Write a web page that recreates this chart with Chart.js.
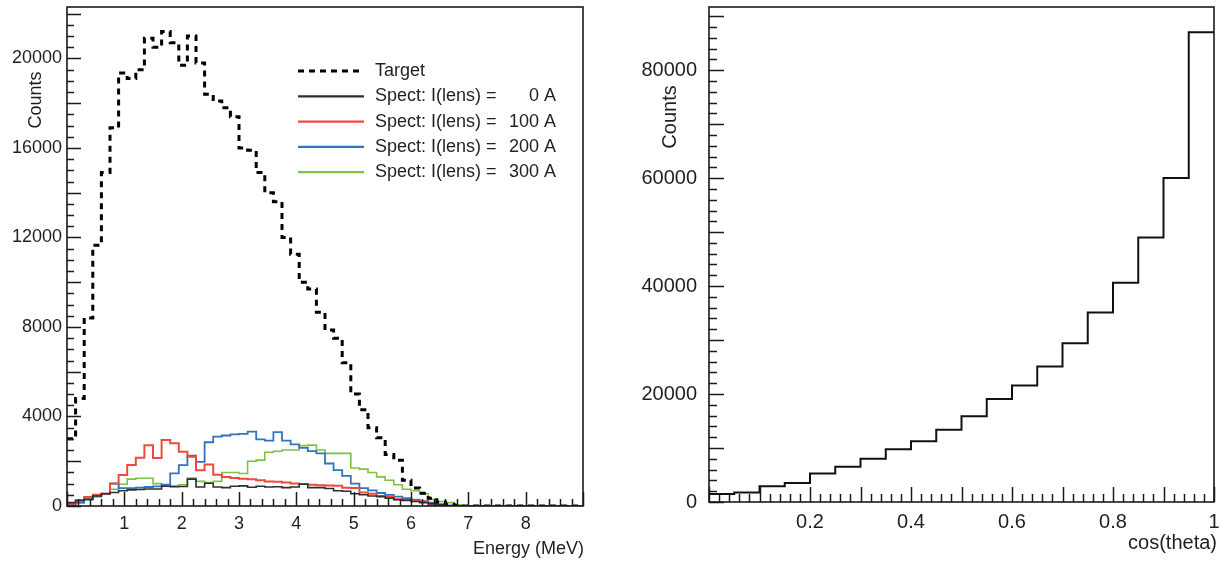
<!DOCTYPE html>
<html>
<head>
<meta charset="utf-8">
<script src="https://cdn.jsdelivr.net/npm/chart.js@4.4.1/dist/chart.umd.min.js"></script>
<style>
  html, body { margin: 0; padding: 0; background: #ffffff; }
  #wrap { position: relative; width: 1222px; height: 563px; background: #ffffff; }
  .panel { position: absolute; top: 0; height: 563px; }
  #leftPanel { left: 0; width: 600px; }
  #rightPanel { left: 600px; width: 622px; }
</style>
</head>
<body>
<div id="wrap">
  <div class="panel" id="leftPanel"><canvas id="leftChart" width="600" height="563"></canvas></div>
  <div class="panel" id="rightPanel"><canvas id="rightChart" width="622" height="563"></canvas></div>
</div>
<script>
// ---------------- DATA ----------------
// Left: energy spectra, 60 bins of 0.15 MeV (bin edges)
const energyEdges = [0, 0.15, 0.3, 0.45, 0.6, 0.75, 0.9, 1.05, 1.2, 1.35, 1.5, 1.65, 1.8, 1.95, 2.1, 2.25, 2.4, 2.55, 2.7, 2.85,
  3.0, 3.15, 3.3, 3.45, 3.6, 3.75, 3.9, 4.05, 4.2, 4.35, 4.5, 4.65, 4.8, 4.95, 5.1, 5.25, 5.4, 5.55, 5.7, 5.85,
  6.0, 6.15, 6.3, 6.45, 6.6, 6.75, 6.9, 7.05, 7.2, 7.35, 7.5, 7.65, 7.8, 7.95, 8.1, 8.25, 8.4, 8.55, 8.7, 8.85, 9.0];

const targetCounts = [3000, 4800, 8400, 11650, 14900, 16900, 19350, 19100, 19500, 20900,
  20500, 21200, 20700, 19700, 21000, 19800, 18400, 18100, 17800, 17400,
  16000, 15900, 14900, 14000, 13600, 12000, 11250, 10000, 9700, 8660,
  7860, 7500, 6400, 5000, 4300, 3500, 3050, 2300, 2050, 1150,
  800, 570, 350, 180, 80, 30, 0, 0, 0, 0,
  0, 0, 0, 0, 0, 0, 0, 0, 0, 0];

const spect0A = [150, 250, 300, 450, 550, 600, 680, 720, 740, 760,
  760, 880, 860, 870, 1200, 850, 1020, 850, 820, 880,
  900, 840, 880, 850, 860, 820, 850, 970, 820, 820,
  780, 680, 660, 550, 500, 450, 420, 350, 280, 250,
  200, 150, 100, 50, 0, 0, 0, 0, 0, 0,
  0, 0, 0, 0, 0, 0, 0, 0, 0, 0];

const spect100A = [100, 250, 400, 500, 550, 1000, 1380, 1830, 2160, 2720,
  2140, 2950, 2800, 2420, 2200, 1600, 1850, 1400, 1300, 1250,
  1220, 1200, 1150, 1100, 1080, 1050, 1000, 980, 950, 930,
  920, 900, 820, 800, 600, 550, 450, 420, 300, 270,
  250, 200, 50, 0, 0, 0, 0, 0, 0, 0,
  0, 0, 0, 0, 0, 0, 0, 0, 0, 0];

const spect200A = [50, 150, 300, 450, 550, 1000, 800, 800, 820, 850,
  880, 950, 1460, 1830, 2250, 1970, 2850, 3100, 3150, 3200,
  3220, 3320, 2980, 2920, 3300, 2920, 2750, 2600, 2450, 2350,
  1900, 1600, 1350, 1000, 800, 700, 580, 500, 420, 350,
  280, 220, 150, 80, 30, 0, 0, 0, 0, 0,
  0, 0, 0, 0, 0, 0, 0, 0, 0, 0];

const spect300A = [50, 150, 270, 400, 550, 750, 970, 1200, 1240, 1240,
  1000, 900, 900, 950, 1250, 1100, 1050, 1100, 1500, 1500,
  1450, 2000, 2050, 2400, 2450, 2500, 2500, 2700, 2720, 2500,
  2350, 2350, 2350, 1700, 1650, 1500, 1300, 1150, 950, 750,
  680, 550, 300, 200, 150, 50, 0, 0, 0, 0,
  0, 0, 0, 0, 0, 0, 0, 0, 0, 0];

const energyTickLabels = [1, 2, 3, 4, 5, 6, 7, 8];
const leftCountTickLabels = [0, 4000, 8000, 12000, 16000, 20000];
const legendNames = ['Target', 'Spect: I(lens) =', 'Spect: I(lens) =', 'Spect: I(lens) =', 'Spect: I(lens) ='];
const legendCurrents = ['', '0 A', '100 A', '200 A', '300 A'];

// Right: angular distribution, 20 bins of 0.05
const cosEdges = [0, 0.05, 0.1, 0.15, 0.2, 0.25, 0.3, 0.35, 0.4, 0.45, 0.5, 0.55, 0.6, 0.65, 0.7, 0.75, 0.8, 0.85, 0.9, 0.95, 1.0];
const cosCounts = [1500, 1750, 2900, 3500, 5300, 6550, 8000, 9750, 11250, 13400,
  15900, 19100, 21600, 25100, 29400, 35100, 40600, 49000, 60000, 87000];
const cosTickLabels = [0.2, 0.4, 0.6, 0.8, 1];
const rightCountTickLabels = [0, 20000, 40000, 60000, 80000];

// ---------------- HELPERS ----------------
function histPoints(edges, values) {
  const pts = values.map((v, i) => ({ x: edges[i], y: v }));
  pts.push({ x: edges[values.length], y: values[values.length - 1] });
  return pts;
}

const TEXT = '#231f20';
const FONT = '"Liberation Sans", Arial, Helvetica, sans-serif';

// Frame + inward ticks (ROOT style) + custom axis titles + legend
const rootStyle = {
  id: 'rootStyle',
  afterDraw(chart, args, o) {
    const ctx = chart.ctx;
    const a = chart.chartArea;
    const xs = chart.scales.x, ys = chart.scales.y;
    ctx.save();
    ctx.strokeStyle = '#1a1a1a';
    ctx.lineWidth = 1.5;
    const nx = Math.round((xs.max - xs.min) / o.xMinor);
    for (let i = 0; i <= nx; i++) {
      const v = xs.min + i * o.xMinor;
      const r = v / o.xMajor;
      const major = Math.abs(r - Math.round(r)) < 1e-6;
      const len = major ? o.xMajorLen : o.xMinorLen;
      const px = Math.round(xs.getPixelForValue(v)) + 0.5;
      ctx.beginPath();
      ctx.moveTo(px, a.bottom);
      ctx.lineTo(px, a.bottom - len);
      ctx.stroke();
    }
    const ny = Math.floor((ys.max - ys.min) / o.yMinor + 1e-6);
    for (let i = 0; i <= ny; i++) {
      const v = ys.min + i * o.yMinor;
      const r = v / o.yMajor;
      const major = Math.abs(r - Math.round(r)) < 1e-6;
      const len = major ? o.yMajorLen : o.yMinorLen;
      const py = Math.round(ys.getPixelForValue(v)) + 0.5;
      ctx.beginPath();
      ctx.moveTo(a.left, py);
      ctx.lineTo(a.left + len, py);
      ctx.stroke();
    }
    ctx.lineWidth = 1.6;
    ctx.strokeRect(a.left, a.top, a.right - a.left, a.bottom - a.top);

    ctx.fillStyle = TEXT;
    ctx.font = o.titleFont;
    ctx.textAlign = 'right';
    ctx.textBaseline = 'middle';
    ctx.fillText(o.xTitle, o.xTitleX, o.xTitleY);
    ctx.save();
    ctx.translate(o.yTitleX, o.yTitleY);
    ctx.rotate(-Math.PI / 2);
    ctx.textAlign = 'center';
    ctx.fillText(o.yTitle, 0, 0);
    ctx.restore();

    if (o.legend) {
      const L = o.legend;
      ctx.font = L.font;
      ctx.textBaseline = 'middle';
      chart.data.datasets.forEach((ds, i) => {
        const y = L.top + i * L.rowH;
        ctx.save();
        ctx.strokeStyle = ds.borderColor;
        ctx.lineWidth = i === 0 ? ds.borderWidth : 2.2;
        ctx.setLineDash(ds.borderDash || []);
        ctx.beginPath();
        ctx.moveTo(L.lineX0, y);
        ctx.lineTo(L.lineX1, y);
        ctx.stroke();
        ctx.restore();
        ctx.fillStyle = TEXT;
        ctx.textAlign = 'left';
        ctx.fillText(legendNames[i], L.textX, y);
        if (legendCurrents[i]) {
          ctx.textAlign = 'right';
          ctx.fillText(legendCurrents[i], L.rightX, y);
        }
      });
    }
    ctx.restore();
  }
};

function fixedTicks(values) {
  return function (scale) { scale.ticks = values.map(v => ({ value: v })); };
}
function noPad(s) { s.paddingLeft = 0; s.paddingRight = 0; s.paddingTop = 0; s.paddingBottom = 0; }
const plainLabel = v => String(v);

// ---------------- LEFT CHART ----------------
new Chart(document.getElementById('leftChart'), {
  type: 'line',
  data: {
    datasets: [
      { label: 'Target', data: histPoints(energyEdges, targetCounts), borderColor: '#000000', borderWidth: 3, borderDash: [6, 5], order: 0 },
      { label: 'Spect: I(lens) = 0 A', data: histPoints(energyEdges, spect0A), borderColor: '#2b3036', borderWidth: 1.6, order: 1 },
      { label: 'Spect: I(lens) = 100 A', data: histPoints(energyEdges, spect100A), borderColor: '#ef4a3a', borderWidth: 2, order: 2 },
      { label: 'Spect: I(lens) = 200 A', data: histPoints(energyEdges, spect200A), borderColor: '#2f74c0', borderWidth: 1.8, order: 3 },
      { label: 'Spect: I(lens) = 300 A', data: histPoints(energyEdges, spect300A), borderColor: '#7fc241', borderWidth: 1.6, order: 4 }
    ].map(d => Object.assign({ stepped: true, pointRadius: 0, fill: false, tension: 0 }, d))
  },
  options: {
    responsive: false,
    animation: false,
    events: [],
    layout: { padding: { left: 0, right: 17, top: 7, bottom: 0 } },
    plugins: {
      legend: { display: false },
      tooltip: { enabled: false },
      rootStyle: {
        xMinor: 0.2, xMajor: 1, xMajorLen: 14, xMinorLen: 7,
        yMinor: 500, yMajor: 2000, yMajorLen: 14, yMinorLen: 7,
        titleFont: '18px ' + FONT,
        xTitle: 'Energy (MeV)', xTitleX: 584, xTitleY: 549,
        yTitle: 'Counts', yTitleX: 36, yTitleY: 100,
        legend: { font: '18px ' + FONT, top: 71, rowH: 25.3, lineX0: 298, lineX1: 364, textX: 375, rightX: 556 }
      }
    },
    scales: {
      x: {
        type: 'linear', min: 0, max: 9,
        afterBuildTicks: fixedTicks(energyTickLabels),
        afterFit: s => { s.height = 57; noPad(s); },
        grid: { display: false, drawTicks: false },
        border: { display: false },
        ticks: { color: TEXT, font: { family: FONT, size: 18 }, padding: 7, maxRotation: 0, autoSkip: false, callback: plainLabel }
      },
      y: {
        type: 'linear', min: 0, max: 22300,
        afterBuildTicks: fixedTicks(leftCountTickLabels),
        afterFit: s => { s.width = 67; noPad(s); },
        grid: { display: false, drawTicks: false },
        border: { display: false },
        ticks: { color: TEXT, font: { family: FONT, size: 18 }, padding: 5, autoSkip: false, callback: plainLabel }
      }
    }
  },
  plugins: [rootStyle]
});

// ---------------- RIGHT CHART ----------------
new Chart(document.getElementById('rightChart'), {
  type: 'line',
  data: {
    datasets: [
      { label: 'cos(theta)', data: histPoints(cosEdges, cosCounts), borderColor: '#111111', borderWidth: 2,
        stepped: true, pointRadius: 0, fill: false, tension: 0 }
    ]
  },
  options: {
    responsive: false,
    animation: false,
    events: [],
    layout: { padding: { left: 0, right: 8, top: 7, bottom: 0 } },
    plugins: {
      legend: { display: false },
      tooltip: { enabled: false },
      rootStyle: {
        xMinor: 0.02, xMajor: 0.1, xMajorLen: 15, xMinorLen: 8,
        yMinor: 2000, yMajor: 10000, yMajorLen: 15, yMinorLen: 8,
        titleFont: '20px ' + FONT,
        xTitle: 'cos(theta)', xTitleX: 617, xTitleY: 543,
        yTitle: 'Counts', yTitleX: 70, yTitleY: 117
      }
    },
    scales: {
      x: {
        type: 'linear', min: 0, max: 1,
        afterBuildTicks: fixedTicks(cosTickLabels),
        afterFit: s => { s.height = 61; noPad(s); },
        grid: { display: false, drawTicks: false },
        border: { display: false },
        ticks: { color: TEXT, font: { family: FONT, size: 20 }, padding: 8, maxRotation: 0, autoSkip: false, callback: plainLabel }
      },
      y: {
        type: 'linear', min: 0, max: 91700,
        afterBuildTicks: fixedTicks(rightCountTickLabels),
        afterFit: s => { s.width = 109; noPad(s); },
        grid: { display: false, drawTicks: false },
        border: { display: false },
        ticks: { color: TEXT, font: { family: FONT, size: 20 }, padding: 12, autoSkip: false, callback: plainLabel }
      }
    }
  },
  plugins: [rootStyle]
});
</script>
</body>
</html>
